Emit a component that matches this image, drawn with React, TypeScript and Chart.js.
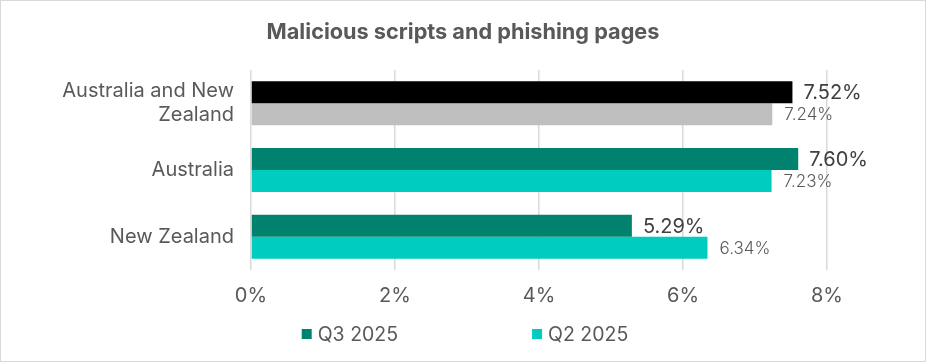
import React, { useEffect, useRef } from "react";
import { Chart, registerables } from "chart.js";

Chart.register(...registerables);

const chartTitle = "Malicious scripts and phishing pages";
const categories: (string | string[])[] = [["Australia and New", "Zealand"], "Australia", "New Zealand"];
const seriesLabels = ["Q3 2025", "Q2 2025"];
const q3Values = [7.52, 7.6, 5.29];
const q2Values = [7.24, 7.23, 6.34];
const xTickValues = [0, 2, 4, 6, 8];
const q3Colors = ["#000000", "#00826F", "#00826F"];
const q2Colors = ["#BFBFBF", "#00CCBF", "#00CCBF"];
const legendColors = ["#00826F", "#00CCBF"];

const FONT = "Inter, 'Open Sans', sans-serif";

const framePlugin = {
  id: "frame",
  beforeDraw(chart: any) {
    const { ctx, width, height } = chart;
    ctx.save();
    ctx.fillStyle = "#ffffff";
    ctx.fillRect(0, 0, width, height);
    ctx.strokeStyle = "#D9D9D9";
    ctx.lineWidth = 1;
    ctx.strokeRect(0.5, 0.5, width - 1, height - 1);
    ctx.restore();
  },
};

const titlePlugin = {
  id: "centeredTitle",
  afterDraw(chart: any) {
    const { ctx, width } = chart;
    ctx.save();
    ctx.font = `700 21.7px ${FONT}`;
    ctx.fillStyle = "#595959";
    ctx.textAlign = "center";
    ctx.textBaseline = "middle";
    ctx.fillText(chartTitle, width / 2, 32);
    ctx.restore();
  },
};

const valueLabelPlugin = {
  id: "valueLabels",
  afterDatasetsDraw(chart: any) {
    const { ctx } = chart;
    ctx.save();
    chart.data.datasets.forEach((ds: any, di: number) => {
      const meta = chart.getDatasetMeta(di);
      meta.data.forEach((bar: any, i: number) => {
        const v = ds.data[i];
        const text = v.toFixed(2) + "%";
        if (di === 0) {
          ctx.font = `400 20px ${FONT}`;
          ctx.fillStyle = "#404040";
        } else {
          ctx.font = `300 17px ${FONT}`;
          ctx.fillStyle = "#595959";
        }
        ctx.textAlign = "left";
        ctx.textBaseline = "middle";
        ctx.fillText(text, bar.x + (di === 0 ? 11 : 12), bar.y + 1);
      });
    });
    ctx.restore();
  },
};

const customLegendPlugin = {
  id: "customLegend",
  afterDraw(chart: any) {
    const { ctx, width } = chart;
    ctx.save();
    ctx.font = `400 19.5px ${FONT}`;
    const box = 10;
    const boxGap = 6;
    const itemGap = 134;
    const widths = seriesLabels.map((l) => box + boxGap + ctx.measureText(l).width);
    const total = widths.reduce((a, b) => a + b, 0) + itemGap * (widths.length - 1);
    let x = width / 2 + 2 - total / 2;
    const y = 334;
    seriesLabels.forEach((label, i) => {
      ctx.fillStyle = legendColors[i];
      ctx.fillRect(x, y - box / 2, box, box);
      ctx.fillStyle = "#595959";
      ctx.textAlign = "left";
      ctx.textBaseline = "middle";
      ctx.fillText(label, x + box + boxGap, y + 1);
      x += widths[i] + itemGap;
    });
    ctx.restore();
  },
};

export default function App() {
  const canvasRef = useRef<HTMLCanvasElement | null>(null);

  useEffect(() => {
    document.body.style.margin = "0";
    const canvas = canvasRef.current;
    if (!canvas) return;
    const chart = new Chart(canvas, {
      type: "bar",
      data: {
        labels: categories,
        datasets: [
          {
            label: seriesLabels[0],
            data: q3Values,
            backgroundColor: q3Colors,
            borderWidth: 0,
            categoryPercentage: 0.66,
            barPercentage: 1,
          },
          {
            label: seriesLabels[1],
            data: q2Values,
            backgroundColor: q2Colors,
            borderWidth: 0,
            categoryPercentage: 0.66,
            barPercentage: 1,
          },
        ],
      },
      options: {
        indexAxis: "y",
        animation: false,
        responsive: false,
        devicePixelRatio: 1,
        layout: { padding: { left: 0, right: 99, top: 70, bottom: 50 } },
        plugins: {
          legend: { display: false },
          tooltip: { enabled: false },
          title: { display: false },
        },
        scales: {
          x: {
            type: "linear",
            min: 0,
            max: 8,
            afterBuildTicks: (scale: any) => {
              scale.ticks = xTickValues.map((v) => ({ value: v }));
            },
            afterFit: (scale: any) => {
              scale.height = 42;
            },
            ticks: {
              callback: (v: any) => v + "%",
              color: "#595959",
              font: { family: FONT, size: 20 },
              padding: 14,
            },
            grid: { color: "#D9D9D9", lineWidth: 1.5, drawTicks: false },
            border: { display: false },
          },
          y: {
            afterFit: (scale: any) => {
              scale.width = 251;
            },
            ticks: {
              color: "#595959",
              font: { family: FONT, size: 20, lineHeight: 1.2 },
              padding: 9,
            },
            grid: { display: false },
            border: { display: false },
          },
        },
      },
      plugins: [framePlugin, titlePlugin, valueLabelPlugin, customLegendPlugin],
    });
    return () => chart.destroy();
  }, []);

  return (
    <div style={{ width: 926, height: 362 }}>
      <canvas ref={canvasRef} width={926} height={362} style={{ display: "block" }} />
    </div>
  );
}
